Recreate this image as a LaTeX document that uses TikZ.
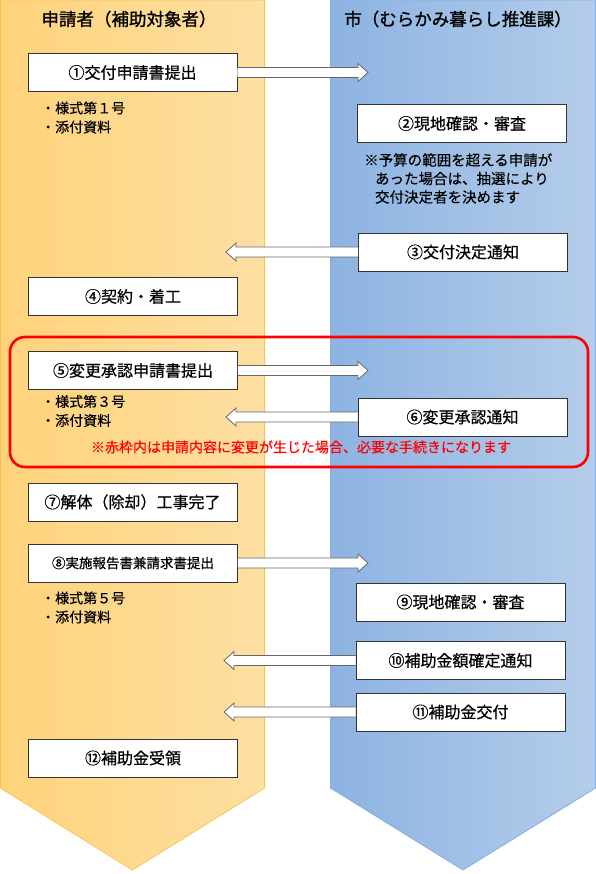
\documentclass[tikz,border=0pt]{standalone}
\usepackage{fontspec}
\setmainfont{Noto Sans CJK JP}
\newfontfamily\headjp{Noto Sans CJK JP}[FakeBold=1.2]
\newfontfamily\boxjp{Noto Sans CJK JP}[FakeBold=0.6]
\newfontfamily\memojp{Noto Sans CJK JP}[FakeBold=0.25]
\usetikzlibrary{calc}

\definecolor{applLeft}{HTML}{FFD37B}
\definecolor{applRight}{HTML}{FDDFA2}
\definecolor{applLine}{HTML}{F8C555}
\definecolor{cityLeft}{HTML}{8DB3E2}
\definecolor{cityRight}{HTML}{B4CDEA}
\definecolor{cityLine}{HTML}{86ADDF}

% block arrow from a box side to a tip coordinate
\newcommand{\flowarrow}[2]{%
  \draw[blockarr] let \p1=(#1), \p2=(#2), \n1={sign(\x2-\x1)*10} in
    (\x1,\y1+5pt) -- ({\x2-\n1*1pt},\y1+5pt) -- ({\x2-\n1*1pt},\y1+9pt)
    -- (\x2,\y1) -- ({\x2-\n1*1pt},\y1-9pt) -- ({\x2-\n1*1pt},\y1-5pt) -- (\x1,\y1-5pt);}

\begin{document}
\begin{tikzpicture}[x=1pt,y=-1pt,
    stepbox/.style={draw=black!80, fill=white, line width=0.8pt, minimum width=209pt, minimum height=38pt, inner sep=0pt, font=\boxjp\fontsize{16pt}{19pt}\selectfont},
    blockarr/.style={draw=black!60, fill=white, line width=0.8pt, line join=miter},
    headtext/.style={font=\headjp\fontsize{17.5pt}{21pt}\selectfont},
    memo/.style={align=left, inner sep=0pt, font=\memojp\fontsize{14pt}{19pt}\selectfont},
    rednote/.style={text=red, inner sep=0pt, font=\memojp\fontsize{14pt}{17pt}\selectfont}]

    \useasboundingbox (0,0) rectangle (596,874);

    % Columns
    \draw[applLine, line width=0.8pt, left color=applLeft, right color=applRight]
      (0.4,0) -- (264.6,0) -- (264.6,788) -- (132.5,870) -- (0.4,788) -- cycle;
    \draw[cityLine, line width=0.8pt, left color=cityLeft, right color=cityRight]
      (330.4,0) -- (595.6,0) -- (595.6,788) -- (463,870) -- (330.4,788) -- cycle;

    % Headers
    \node[headtext] (hAppl) at (129,19) {申請者（補助対象者）};
    \node[headtext] (hCity) at (458,19) {市（むらかみ暮らし推進課）};

    % Red frame
    \draw[red, line width=2.6pt, rounded corners=15pt] (10,337) rectangle (588,467);

    % Arrow tips
    \coordinate (t1) at (368,72.5);
    \coordinate (t3) at (226,252);
    \coordinate (t5) at (368,370.5);
    \coordinate (t6) at (226,417);
    \coordinate (t8) at (368,563);
    \coordinate (t10) at (224,660.5);
    \coordinate (t11) at (224,712);

    % Boxes
    \node[stepbox] (b1) at (132.5,72.5) {①交付申請書提出};
    \node[stepbox] (b2) at (462,123.5) {②現地確認・審査};
    \node[stepbox] (b3) at (463,252) {③交付決定通知};
    \node[stepbox] (b4) at (133,296.5) {④契約・着工};
    \node[stepbox] (b5) at (133,370.5) {⑤変更承認申請書提出};
    \node[stepbox] (b6) at (462.5,417) {⑥変更承認通知};
    \node[stepbox] (b7) at (132.5,502) {⑦解体（除却）工事完了};
    \node[stepbox, font=\boxjp\fontsize{13.5pt}{16pt}\selectfont] (b8) at (133,563) {⑧実施報告書兼請求書提出};
    \node[stepbox] (b9) at (460.5,602) {⑨現地確認・審査};
    \node[stepbox] (b10) at (460.5,660.5) {⑩補助金額確定通知};
    \node[stepbox] (b11) at (460.5,712) {⑪補助金交付};
    \node[stepbox] (b12) at (133,758) {⑫補助金受領};

    % Arrows
    \flowarrow{b1.east}{t1}
    \flowarrow{b3.west}{t3}
    \flowarrow{b5.east}{t5}
    \flowarrow{b6.west}{t6}
    \flowarrow{b8.east}{t8}
    \flowarrow{b10.west}{t10}
    \flowarrow{b11.west}{t11}

    % Notes
    \node[memo, anchor=west] (m1) at (41,117.5) {・様式第１号\\・添付資料};
    \node[memo, anchor=west] (m5) at (41,411) {・様式第３号\\・添付資料};
    \node[memo, anchor=west] (m8) at (41,607.5) {・様式第５号\\・添付資料};
    \node[memo, anchor=west, font=\memojp\fontsize{14.5pt}{18.5pt}\selectfont] (m2) at (364,178.5)
      {※予算の範囲を超える申請が\\\hspace*{0.75em}あった場合は、抽選により\\\hspace*{0.75em}交付決定者を決めます};
    \node[rednote] (rn) at (301,447) {※赤枠内は申請内容に変更が生じた場合、必要な手続きになります};

\end{tikzpicture}
\end{document}
